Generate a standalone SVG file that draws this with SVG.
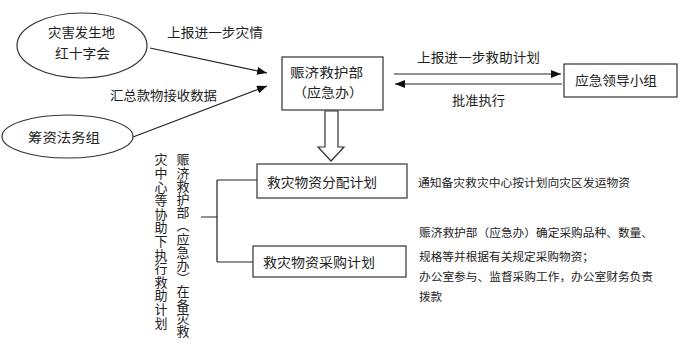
<svg xmlns="http://www.w3.org/2000/svg" width="684" height="353" viewBox="0 0 684 353">
<style>
text{font-family:"Liberation Serif","Noto Sans CJK SC",serif;fill:#222;font-size:13px}
.s{font-size:11px}
.n{fill:#fff;stroke:#333;stroke-width:1.2}
.c{fill:none;stroke:#222;stroke-width:1.2}
.v{writing-mode:vertical-rl;text-orientation:mixed}
</style>
<defs>
<marker id="ah" markerWidth="10" markerHeight="8" refX="10" refY="4" orient="auto" markerUnits="userSpaceOnUse">
<path d="M0,0 L10,4 L0,8 Z" fill="#111"/>
</marker>
</defs>
<rect width="684" height="353" fill="#fff"/>
<g id="connectors">
<line class="c" x1="150" y1="48" x2="267" y2="73" marker-end="url(#ah)"/>
<line class="c" x1="133" y1="137" x2="267" y2="86" marker-end="url(#ah)"/>
<line class="c" x1="394" y1="74" x2="561" y2="74" marker-end="url(#ah)"/>
<line class="c" x1="562" y1="84" x2="395" y2="84" marker-end="url(#ah)"/>
<path class="n" d="M325,111 L338,111 L338,147 L344,147 L331,161 L318,147 L325,147 Z"/>
<path class="c" d="M201,217 L217,217 M217,180 L217,262 M217,180 L257,180 M217,262 L253,262"/>
<text x="167" y="37" textLength="96" lengthAdjust="spacingAndGlyphs">上报进一步灾情</text>
<text x="110" y="100" textLength="107" lengthAdjust="spacingAndGlyphs">汇总款物接收数据</text>
<text x="417" y="62" textLength="123" lengthAdjust="spacingAndGlyphs">上报进一步救助计划</text>
<text x="452" y="105" textLength="53" lengthAdjust="spacingAndGlyphs">批准执行</text>
</g>
<g id="n_redcross">
<ellipse class="n" cx="82" cy="45.5" rx="65" ry="32.5"/>
<text x="48" y="37" textLength="67" lengthAdjust="spacingAndGlyphs">灾害发生地</text>
<text x="55" y="58" textLength="55" lengthAdjust="spacingAndGlyphs">红十字会</text>
</g>
<g id="n_fund">
<ellipse class="n" cx="67.5" cy="136.5" rx="65.5" ry="21.5"/>
<text x="28" y="142" textLength="72" lengthAdjust="spacingAndGlyphs">筹资法务组</text>
</g>
<g id="n_relief">
<rect class="n" x="282" y="57" width="101" height="53"/>
<text x="290" y="77" textLength="73" lengthAdjust="spacingAndGlyphs">赈济救护部</text>
<text x="293" y="97" textLength="70" lengthAdjust="spacingAndGlyphs">（应急办）</text>
</g>
<g id="n_leader">
<rect class="n" x="564" y="64" width="113" height="33"/>
<text x="575" y="85" textLength="82" lengthAdjust="spacingAndGlyphs">应急领导小组</text>
</g>
<g id="n_alloc">
<rect class="n" x="257" y="164" width="150" height="34"/>
<text x="267" y="187" textLength="110" lengthAdjust="spacingAndGlyphs">救灾物资分配计划</text>
</g>
<g id="n_purchase">
<rect class="n" x="253" y="246" width="153" height="31"/>
<text x="263" y="267" textLength="112" lengthAdjust="spacingAndGlyphs">救灾物资采购计划</text>
</g>
<g id="n_vertical">
<text class="v" x="182" y="153" letter-spacing="0.2">赈济救护部（应急办）在备灾救</text>
<text class="v" x="160" y="153" letter-spacing="0.6">灾中心等协助下执行救助计划</text>
</g>
<g id="n_notes">
<text class="s" x="418" y="187" textLength="212" lengthAdjust="spacingAndGlyphs">通知备灾救灾中心按计划向灾区发运物资</text>
<text class="s" x="419" y="237" textLength="234" lengthAdjust="spacingAndGlyphs">赈济救护部（应急办）确定采购品种、数量、</text>
<text class="s" x="419" y="261" textLength="175" lengthAdjust="spacingAndGlyphs">规格等并根据有关规定采购物资；</text>
<text class="s" x="419" y="281" textLength="234" lengthAdjust="spacingAndGlyphs">办公室参与、监督采购工作，办公室财务负责</text>
<text class="s" x="419" y="301" textLength="23" lengthAdjust="spacingAndGlyphs">拨款</text>
</g>
</svg>
